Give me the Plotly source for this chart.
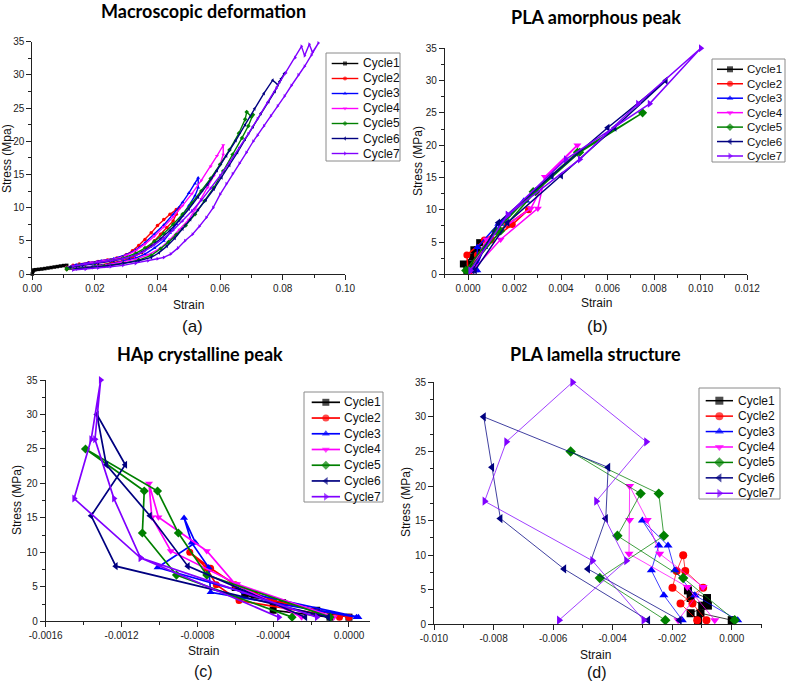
import plotly.graph_objects as go

W, H = 786, 684

cycle_names = ["Cycle1", "Cycle2", "Cycle3", "Cycle4", "Cycle5", "Cycle6", "Cycle7"]
cycle_colors = ["#000000", "#FF0000", "#0000FF", "#FF00FF", "#008000", "#000080", "#8000FF"]
cycle_symbols = ["square", "circle", "triangle-up", "triangle-down", "diamond",
                 "triangle-left", "triangle-right"]

# ---------------- (a) Macroscopic deformation ----------------
a_strain_c1 = [0.0000, 0.0002, 0.0005, 0.0010, 0.0020, 0.0030, 0.0040, 0.0050, 0.0060,
               0.0070, 0.0080, 0.0090, 0.0100, 0.0110]
a_stress_c1 = [0.0, 0.4, 0.6, 0.65, 0.7, 0.75, 0.82, 0.9, 0.97, 1.05, 1.12, 1.2, 1.27, 1.3]

a_strain_c2 = [0.011, 0.013, 0.015, 0.018, 0.021, 0.024, 0.027, 0.030, 0.032, 0.034, 0.036,
               0.038, 0.040, 0.042, 0.044, 0.046, 0.047,
               0.046, 0.045, 0.043, 0.041, 0.039, 0.037, 0.035, 0.032, 0.029, 0.025, 0.021,
               0.017, 0.013, 0.011]
a_stress_c2 = [1.0, 1.3, 1.5, 1.7, 1.9, 2.1, 2.4, 2.9, 3.5, 4.3, 5.2, 6.2, 7.3, 8.2, 9.0, 9.7,
               10.0,
               9.0, 8.0, 7.0, 6.0, 5.0, 4.0, 3.2, 2.5, 2.0, 1.6, 1.3, 1.0, 0.8, 0.7]

a_strain_c3 = [0.011, 0.014, 0.018, 0.022, 0.026, 0.030, 0.033, 0.036, 0.039, 0.042, 0.045,
               0.048, 0.050, 0.052, 0.053,
               0.053, 0.052, 0.050, 0.048, 0.046, 0.044, 0.042, 0.039, 0.036, 0.033, 0.029,
               0.025, 0.020, 0.016, 0.012]
a_stress_c3 = [1.0, 1.4, 1.7, 2.0, 2.3, 2.9, 3.6, 4.7, 6.0, 7.4, 9.0, 10.8, 12.2, 13.6, 14.5,
               13.0, 11.8, 10.3, 8.8, 7.5, 6.2, 5.0, 3.9, 3.0, 2.4, 1.9, 1.5, 1.2, 1.0, 0.8]

a_strain_c4 = [0.011, 0.015, 0.019, 0.023, 0.027, 0.030, 0.033, 0.036, 0.039, 0.042, 0.045,
               0.048, 0.051, 0.054, 0.057, 0.059, 0.061,
               0.061, 0.060, 0.058, 0.056, 0.054, 0.052, 0.050, 0.047, 0.044, 0.041, 0.037,
               0.033, 0.028, 0.023, 0.017, 0.012]
a_stress_c4 = [1.0, 1.4, 1.7, 2.0, 2.3, 2.8, 3.5, 4.5, 5.7, 7.1, 8.6, 10.3, 12.1, 14.1, 16.2,
               17.8, 19.4,
               18.0, 16.5, 14.8, 13.0, 11.3, 9.7, 8.2, 6.7, 5.2, 3.9, 2.9, 2.2, 1.7, 1.3, 1.0,
               0.8]

a_strain_c5 = [0.011, 0.015, 0.020, 0.025, 0.029, 0.033, 0.036, 0.039, 0.042, 0.045, 0.048,
               0.051, 0.054, 0.057, 0.060, 0.063, 0.066, 0.068, 0.0685, 0.0700, 0.0705,
               0.069, 0.067, 0.064, 0.061, 0.058, 0.055, 0.052, 0.049, 0.046, 0.0435, 0.041,
               0.038, 0.034, 0.029, 0.023, 0.017, 0.011]
a_stress_c5 = [0.9, 1.3, 1.6, 2.0, 2.4, 3.1, 3.9, 4.9, 6.1, 7.5, 9.0, 10.7, 12.5, 14.4, 16.5,
               18.7, 21.2, 23.3, 24.4, 23.7, 24.0,
               22.3, 20.5, 18.0, 15.5, 13.0, 11.0, 9.0, 7.3, 5.9, 4.8, 3.8, 2.8, 2.1, 1.6,
               1.2, 0.9, 0.7]

a_strain_c6 = [0.012, 0.016, 0.021, 0.026, 0.031, 0.035, 0.038, 0.041, 0.044, 0.047, 0.050,
               0.053, 0.056, 0.059, 0.062, 0.065, 0.068, 0.071, 0.074, 0.0768, 0.0785,
               0.0795, 0.0805,
               0.079, 0.0775, 0.0755, 0.073, 0.0705, 0.068, 0.0655, 0.063, 0.0605, 0.058,
               0.0555, 0.053, 0.0505, 0.048, 0.0455, 0.043, 0.0405, 0.038, 0.034, 0.029,
               0.024, 0.019, 0.014]
a_stress_c6 = [1.0, 1.3, 1.6, 2.0, 2.5, 3.3, 4.2, 5.3, 6.6, 8.1, 9.8, 11.6, 13.5, 15.6, 17.8,
               20.1, 22.5, 24.9, 27.2, 29.2, 28.5, 29.4, 30.2,
               29.0, 27.5, 26.0, 24.2, 22.2, 20.3, 18.3, 16.4, 14.5, 12.8, 11.2, 9.7, 8.2,
               6.8, 5.4, 4.2, 3.2, 2.5, 2.0, 1.6, 1.2, 1.0, 0.8]

a_strain_c7 = [0.013, 0.017, 0.021, 0.025, 0.029, 0.033, 0.036, 0.039, 0.042, 0.045, 0.048,
               0.051, 0.054, 0.057, 0.060, 0.063, 0.066, 0.069, 0.072, 0.075, 0.078, 0.081,
               0.084, 0.086, 0.087, 0.0885, 0.0895, 0.0914,
               0.0892, 0.0870, 0.0850, 0.0828, 0.0806, 0.0784, 0.0762, 0.0740, 0.0720,
               0.0706, 0.0684, 0.0662, 0.0640, 0.0620, 0.0600, 0.0578, 0.0556, 0.0534,
               0.0512, 0.0488, 0.0465, 0.0442, 0.0420, 0.0400, 0.0370, 0.0330, 0.0290,
               0.0250, 0.0210, 0.0170, 0.0130]
a_stress_c7 = [1.2, 1.5, 1.8, 2.0, 2.3, 2.8, 3.5, 4.4, 5.4, 6.6, 8.0, 9.5, 11.1, 12.9, 14.8,
               16.8, 18.9, 21.1, 23.4, 25.7, 28.0, 30.3, 32.6, 34.3, 32.9, 34.6, 33.4, 34.8,
               33.0, 31.3, 30.0, 28.4, 26.8, 25.3, 23.8, 22.3, 20.9, 20.0, 18.3, 16.7, 15.1,
               13.6, 12.0, 10.0, 8.5, 7.2, 6.0, 5.0, 3.9, 3.0, 2.5, 2.3, 2.0, 1.6, 1.3, 1.1,
               0.9, 0.7, 0.6]

# ---------------- stress levels used in (b), (c), (d) ----------------
stress_c1 = [0.6, 1.6, 2.7, 3.8, 4.9, 3.8, 2.7, 1.6, 0.6]
stress_c2 = [0.6, 3.0, 5.3, 7.7, 10.0, 7.7, 5.3, 3.0, 0.6]
stress_c3 = [0.6, 4.2, 7.8, 11.4, 15.0, 11.4, 7.8, 4.2, 0.6]
stress_c4 = [0.6, 5.4, 10.2, 15.1, 20.0, 15.1, 10.2, 5.4, 0.6]
stress_c5 = [0.6, 6.7, 12.8, 18.9, 25.0, 18.9, 12.8, 6.7, 0.6]
stress_c6 = [0.6, 8.0, 15.3, 22.7, 30.0, 22.7, 15.3, 8.0, 0.6]
stress_c7 = [0.6, 9.2, 17.8, 26.4, 35.0, 26.4, 17.8, 9.2, 0.6]

# ---------------- (b) PLA amorphous peak ----------------
b_strain_c1 = [-0.00005, -0.0002, 0.0002, 0.00025, 0.0005, 0.0004, 0.0003, 0.0001, 0.0000]
b_strain_c2 = [0.0000, -0.00005, 0.0007, 0.0017, 0.0026, 0.0019, 0.0010, 0.0004, 0.0001]
b_strain_c3 = [0.0004, 0.0004, 0.0013, 0.0025, 0.0035, 0.0024, 0.0014, 0.0007, 0.0003]
b_strain_c4 = [0.0001, 0.0008, 0.0027, 0.0034, 0.0047, 0.0033, 0.0030, 0.0014, 0.0002]
b_strain_c5 = [-0.0001, 0.0012, 0.0028, 0.0047, 0.0075, 0.0048, 0.0029, 0.0014, 0.0000]
b_strain_c6 = [0.0003, 0.0017, 0.0040, 0.0063, 0.0085, 0.0060, 0.0036, 0.0013, 0.0002]
b_strain_c7 = [0.0001, 0.0017, 0.0042, 0.0078, 0.0100, 0.0073, 0.0048, 0.0017, 0.0001]

# ---------------- (c) HAp crystalline peak ----------------
c_strain_c1 = [0.0000, -0.00017, -0.00035, -0.00055, -0.0006, -0.0005, -0.0004, -0.0004, -0.0001]
c_strain_c2 = [-0.00005, -0.00058, -0.0007, -0.00075, -0.00084, -0.00073, -0.0006, -0.0004, 0.0000]
c_strain_c3 = [0.00004, -0.00073, -0.00074, -0.00083, -0.00087, -0.00081, -0.00101, -0.00055, 0.00005]
c_strain_c4 = [-0.00008, -0.00059, -0.00094, -0.00104, -0.001055, -0.001005, -0.00075, -0.0006, -0.00025]
c_strain_c5 = [-0.0003, -0.00091, -0.00109, -0.00108, -0.00139, -0.00101, -0.0009, -0.00075, -0.0001]
c_strain_c6 = [-0.00011, -0.00123, -0.00136, -0.00118, -0.00133, -0.00128, -0.00105, -0.00085, -0.00023]
c_strain_c7 = [-0.00017, -0.0011, -0.00145, -0.00136, -0.00131, -0.00134, -0.00124, -0.0011, -0.00037]

# ---------------- (d) PLA lamella structure ----------------
d_strain_c1 = [0.0000, -0.00105, -0.00099, -0.00138, -0.00147, -0.00083, -0.0008, -0.00138, -0.00113]
d_strain_c2 = [-0.00085, -0.00132, -0.00199, -0.00185, -0.00163, -0.00156, -0.00096, -0.00172, -0.00116]
d_strain_c3 = [0.0002, -0.00124, -0.00191, -0.00214, -0.0030, -0.00245, -0.0027, -0.00228, -0.00166]
d_strain_c4 = [-0.00057, -0.00149, -0.00345, -0.00343, -0.00343, -0.00284, -0.00242, -0.00096, -0.0018]
d_strain_c5 = [0.0001, -0.00163, -0.00384, -0.00306, -0.00541, -0.00245, -0.00228, -0.00443, -0.00223]
d_strain_c6 = [-0.00175, -0.00483, -0.00423, -0.00415, -0.00833, -0.00805, -0.00777, -0.00563, -0.00281]
d_strain_c7 = [-0.0058, -0.00354, -0.00455, -0.00287, -0.00535, -0.00757, -0.0083, -0.00468, -0.00296]

# ---------------- tick labels ----------------
y_tickvals = [0, 5, 10, 15, 20, 25, 30, 35]
y_ticktext = ["0", "5", "10", "15", "20", "25", "30", "35"]
a_xtickvals = [0.0, 0.02, 0.04, 0.06, 0.08, 0.10]
a_xticktext = ["0.00", "0.02", "0.04", "0.06", "0.08", "0.10"]
b_xtickvals = [0.0, 0.002, 0.004, 0.006, 0.008, 0.010, 0.012]
b_xticktext = ["0.000", "0.002", "0.004", "0.006", "0.008", "0.010", "0.012"]
c_xtickvals = [-0.0016, -0.0012, -0.0008, -0.0004, 0.0]
c_xticktext = ["-0.0016", "-0.0012", "-0.0008", "-0.0004", "0.0000"]
d_xtickvals = [-0.010, -0.008, -0.006, -0.004, -0.002, 0.0]
d_xticktext = ["-0.010", "-0.008", "-0.006", "-0.004", "-0.002", "0.000"]

# ---------------- assemble ----------------
a_strains = [a_strain_c1, a_strain_c2, a_strain_c3, a_strain_c4, a_strain_c5, a_strain_c6, a_strain_c7]
a_stresses = [a_stress_c1, a_stress_c2, a_stress_c3, a_stress_c4, a_stress_c5, a_stress_c6, a_stress_c7]
stresses = [stress_c1, stress_c2, stress_c3, stress_c4, stress_c5, stress_c6, stress_c7]
b_strains = [b_strain_c1, b_strain_c2, b_strain_c3, b_strain_c4, b_strain_c5, b_strain_c6, b_strain_c7]
c_strains = [c_strain_c1, c_strain_c2, c_strain_c3, c_strain_c4, c_strain_c5, c_strain_c6, c_strain_c7]
d_strains = [d_strain_c1, d_strain_c2, d_strain_c3, d_strain_c4, d_strain_c5, d_strain_c6, d_strain_c7]

FONT = "Liberation Sans, Arial, sans-serif"
AX = "#222222"


def rgba(hexc, a):
    h = hexc.lstrip("#")
    return "rgba(%d,%d,%d,%.2f)" % (int(h[0:2], 16), int(h[2:4], 16), int(h[4:6], 16), a)


fig = go.Figure()


def add_panel(n, xs, ys, msize, lwidth, lalpha):
    xa = "x" if n == 1 else "x%d" % n
    ya = "y" if n == 1 else "y%d" % n
    for k in range(7):
        fig.add_trace(go.Scatter(
            x=xs[k], y=ys[k], mode="lines+markers", xaxis=xa, yaxis=ya,
            line=dict(color=rgba(cycle_colors[k], lalpha), width=lwidth),
            marker=dict(symbol=cycle_symbols[k], size=msize, color=cycle_colors[k],
                        line=dict(width=0)),
            cliponaxis=False, showlegend=False, hoverinfo="skip", name=cycle_names[k]))


add_panel(1, a_strains, a_stresses, 3.5, 1.4, 1.0)
add_panel(2, b_strains, stresses, 7, 1.5, 1.0)
add_panel(3, c_strains, stresses, 7, 1.7, 1.0)
add_panel(4, d_strains, stresses, 8, 1.0, 0.75)


def xdom(x0, x1):
    return [x0 / W, x1 / W]


def ydom(top, bottom):
    return [1 - bottom / H, 1 - top / H]


def base_axis():
    return dict(showline=True, linecolor=AX, linewidth=1, ticks="outside", ticklen=5,
                tickwidth=1, tickcolor=AX, showgrid=False, zeroline=False, fixedrange=True,
                tickfont=dict(family=FONT, size=10, color=AX), tickmode="array")


panels = [
    # n, x px, y px, xrange, xticks, xtext, minor dtick, minor tick0
    (1, (32.3, 345.3), (41.7, 274.0), [0, 0.10], a_xtickvals, a_xticktext, 0.01, 0.0),
    (2, (444.75, 747.3), (48.3, 274.3), [-0.001, 0.012], b_xtickvals, b_xticktext, 0.001, 0.0),
    (3, (45.7, 370.0), (380.0, 621.3), [-0.0016, 0.000111], c_xtickvals, c_xticktext, 0.0002, 0.0),
    (4, (434.0, 761.5), (382.3, 624.3), [-0.010, 0.001], d_xtickvals, d_xticktext, 0.001, 0.0),
]

layout_axes = {}
for n, xp, yp, xr, xtv, xtt, mdt, mt0 in panels:
    xname = "xaxis" if n == 1 else "xaxis%d" % n
    yname = "yaxis" if n == 1 else "yaxis%d" % n
    xa = base_axis()
    xa.update(domain=xdom(*xp), range=xr, tickvals=xtv, ticktext=xtt,
              anchor="y" if n == 1 else "y%d" % n,
              minor=dict(ticks="outside", ticklen=3, tickcolor=AX, dtick=mdt, tick0=mt0,
                         showgrid=False))
    ya = base_axis()
    ya.update(domain=ydom(*yp), range=[0, 35], tickvals=y_tickvals, ticktext=y_ticktext,
              anchor="x" if n == 1 else "x%d" % n,
              minor=dict(ticks="outside", ticklen=3, tickcolor=AX, dtick=2.5, tick0=0,
                         showgrid=False))
    layout_axes[xname] = xa
    layout_axes[yname] = ya

# ---------------- custom legends (inset axes) ----------------
# n, box (left, top, right, bottom), first centre, step, line x0, line x1, text x, font, msize, lwidth
legends = [
    (5, (326, 53, 400, 161), 63.5, 15.0, 331.7, 358.3, 361.0, 12, 4, 1.4),
    (6, (712, 59, 785, 162), 69.3, 14.45, 717.0, 743.0, 745.0, 11.5, 6, 1.5),
    (7, (304, 392, 383, 502), 402.3, 15.73, 311.7, 340.0, 342.0, 12, 7, 1.7),
    (8, (699, 388, 780, 499), 400.7, 15.43, 705.7, 733.0, 736.0, 12, 8, 1.5),
]
annotations = []
shapes = []
for n, (l, t, r, b), c0, step, lx0, lx1, tx, fs, ms, lw in legends:
    layout_axes["xaxis%d" % n] = dict(domain=xdom(l, r), range=[l, r], visible=False,
                                      fixedrange=True, anchor="y%d" % n)
    layout_axes["yaxis%d" % n] = dict(domain=ydom(t, b), range=[(b - c0) / step, (t - c0) / step],
                                      visible=False, fixedrange=True, anchor="x%d" % n)
    shapes.append(dict(type="rect", xref="x%d domain" % n, yref="y%d domain" % n,
                       x0=0, x1=1, y0=0, y1=1, line=dict(color="#8a8a8a", width=1),
                       layer="below"))
    for k in range(7):
        fig.add_trace(go.Scatter(
            x=[lx0, (lx0 + lx1) / 2, lx1], y=[k, k, k], mode="lines+markers",
            xaxis="x%d" % n, yaxis="y%d" % n,
            line=dict(color=cycle_colors[k], width=lw),
            marker=dict(symbol=cycle_symbols[k], size=[0, ms, 0], color=cycle_colors[k],
                        line=dict(width=0)),
            cliponaxis=False, showlegend=False, hoverinfo="skip"))
        annotations.append(dict(x=tx, y=k, xref="x%d" % n, yref="y%d" % n, text=cycle_names[k],
                                showarrow=False, xanchor="left", yanchor="middle",
                                font=dict(family=FONT, size=fs, color="#111")))


def paper_text(text, x, y, size, family=FONT, angle=0, color="#111"):
    annotations.append(dict(text=text, x=x / W, y=1 - y / H, xref="paper", yref="paper",
                            showarrow=False, xanchor="center", yanchor="middle",
                            textangle=angle, font=dict(family=family, size=size, color=color)))


TFONT = "Lato, Carlito, 'Open Sans', sans-serif"
paper_text("<b>Macroscopic deformation</b>", 203, 11, 18, TFONT, color="#000")
paper_text("<b>PLA amorphous peak</b>", 596, 17, 18, TFONT, color="#000")
paper_text("<b>HAp crystalline peak</b>", 200, 354, 18, TFONT, color="#000")
paper_text("<b>PLA lamella structure</b>", 595, 354, 18, TFONT, color="#000")

paper_text("Strain", 188, 305, 12)
paper_text("Strain", 596, 303, 12)
paper_text("Strain", 203, 651, 12)
paper_text("Strain", 595, 655, 12)

paper_text("Stress (Mpa)", 7, 159, 12, angle=-90)
paper_text("Stress (MPa)", 418, 161, 12, angle=-90)
paper_text("Stress (MPa)", 17, 500, 12, angle=-90)
paper_text("Stress (MPa)", 406, 502, 12, angle=-90)

paper_text("(a)", 192, 326, 17)
paper_text("(b)", 597, 326, 17)
paper_text("(c)", 203, 671, 16)
paper_text("(d)", 597, 672, 16)

fig.update_layout(
    width=W, height=H, margin=dict(l=0, r=0, t=0, b=0, pad=0, autoexpand=False),
    paper_bgcolor="white", plot_bgcolor="rgba(0,0,0,0)",
    showlegend=False, annotations=annotations, shapes=shapes,
    **layout_axes,
)

fig.write_html(
    "out.html",
    config={"displayModeBar": False},
    post_script="document.body.style.margin='0';document.body.style.padding='0';"
                "document.body.style.overflow='hidden';",
)
